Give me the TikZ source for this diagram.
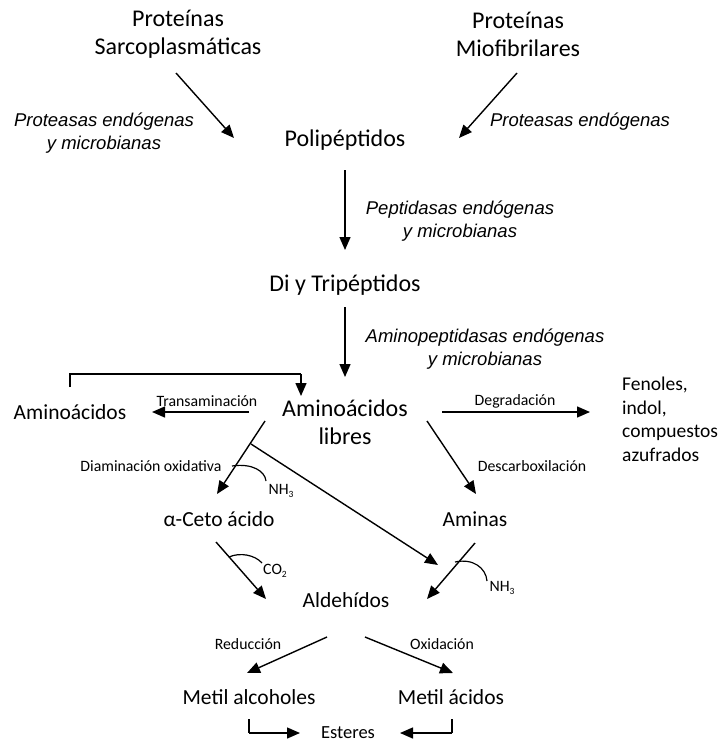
\documentclass[tikz,border=0pt]{standalone}
\usepackage{fontspec}
\setmainfont{Carlito}
\newfontfamily\arialfont{Liberation Sans}
\usetikzlibrary{arrows.meta}
\newcommand{\mysub}[1]{\raisebox{-0.45ex}{\fontsize{9.5}{10}\selectfont #1}}
\tikzset{
  big/.style={font=\fontsize{24}{28}\selectfont, inner sep=0pt, align=center},
  mid/.style={font=\fontsize{21.5}{26}\selectfont, inner sep=0pt, align=center},
  small/.style={font=\fontsize{15.8}{18}\selectfont, inner sep=0pt},
  enz/.style={font=\arialfont\itshape\fontsize{18.5}{22.5}\selectfont, inner sep=0pt, align=center},
  arr/.style={line width=1.4pt, -{Triangle[length=13pt,width=11pt]}},
  ln/.style={line width=1.2pt},
}
\begin{document}
\begin{tikzpicture}[x=1pt,y=-1pt]
\useasboundingbox (0,0) rectangle (720,744);
% texts
\node[big] (sarc) at (178,34) {Proteínas\\Sarcoplasmáticas};
\node[big] (miof) at (518,34) {Proteínas\\Miofibrilares};
\node[enz] (e1) at (104,133) {Proteasas endógenas\\y microbianas};
\node[enz] (e2) at (580,122) {Proteasas endógenas};
\node[big] (poli) at (345,140) {Polipéptidos};
\node[enz] (e3) at (460,221) {Peptidasas endógenas\\y microbianas};
\node[enz] (e4) at (485,349) {Aminopeptidasas endógenas\\y microbianas};
\node[big] (ditri) at (345,285) {Di y Tripéptidos};
\node[big] (aal) at (345,422) {Aminoácidos\\libres};
\node[mid] (aa) at (70,412) {Aminoácidos};
\node[small] (ltr) at (207,401) {Transaminación};
\node[small] (ldeg) at (515,401) {Degradación};
\node[font=\fontsize{19.5}{23.5}\selectfont, inner sep=0pt, align=left, anchor=north west] (fen) at (622,377) {Fenoles,\\indol,\\compuestos\\azufrados};
\node[small] (ldia) at (151,466) {Diaminación oxidativa};
\node[small] (nh1) at (281,491) {NH\mysub{3}};
\node[small] (ldes) at (532,466) {Descarboxilación};
\node[mid] (ceto) at (219,519) {α-Ceto ácido};
\node[mid] (ami) at (475,519) {Aminas};
\node[small] (co2) at (275,571) {CO\mysub{2}};
\node[small] (nh2) at (502,588) {NH\mysub{3}};
\node[mid] (ald) at (346,600) {Aldehídos};
\node[small] (lred) at (248,644) {Reducción};
\node[small] (lox) at (442,644) {Oxidación};
\node[mid] (mal) at (249,697) {Metil alcoholes};
\node[mid] (mac) at (451,697) {Metil ácidos};
\node[font=\fontsize{18.5}{20}\selectfont, inner sep=0pt] (est) at (348,733) {Esteres};
% connector end points
\coordinate (s1) at (176,73);  \coordinate (t1) at (234,138);
\coordinate (s2) at (517,73);  \coordinate (t2) at (459,138);
\coordinate (s3) at (345,170); \coordinate (t3) at (345,250);
\coordinate (s4) at (345,307); \coordinate (t4) at (345,377);
\coordinate (b1) at (70,387);  \coordinate (b2) at (70,374);
\coordinate (b3) at (301,374); \coordinate (t5) at (301,396);
\coordinate (s6) at (249,412); \coordinate (t6) at (152,412);
\coordinate (s7) at (442,412); \coordinate (t7) at (590,412);
\coordinate (s8) at (265,421); \coordinate (t8) at (217,494);
\coordinate (s9) at (251,444); \coordinate (t9) at (438,565);
\coordinate (s10) at (427,421); \coordinate (t10) at (476,494);
\coordinate (s11) at (216,542); \coordinate (t11) at (266,599);
\coordinate (s12) at (475,543); \coordinate (t12) at (427,599);
\coordinate (s13) at (327,637); \coordinate (t13) at (247,673);
\coordinate (s14) at (365,637); \coordinate (t14) at (453,673);
\coordinate (c1) at (249,719); \coordinate (c2) at (249,733); \coordinate (t15) at (300,733);
\coordinate (c3) at (452,719); \coordinate (c4) at (452,733); \coordinate (t16) at (400,733);
\coordinate (n1a) at (232,466); \coordinate (n1b) at (266,481);
\coordinate (cca) at (229,557); \coordinate (ccb) at (262,563);
\coordinate (n2a) at (455,562); \coordinate (n2b) at (487,581);
% connectors
\draw[arr] (s1) -- (t1);
\draw[arr] (s2) -- (t2);
\draw[arr] (s3) -- (t3);
\draw[arr] (s4) -- (t4);
\draw[ln] (b1) -- (b2) -- (b3);
\draw[arr] (b3) -- (t5);
\draw[arr] (s6) -- (t6);
\draw[arr] (s7) -- (t7);
\draw[arr] (s8) -- (t8);
\draw[arr] (s9) -- (t9);
\draw[arr] (s10) -- (t10);
\draw[arr] (s11) -- (t11);
\draw[arr] (s12) -- (t12);
\draw[arr] (s13) -- (t13);
\draw[arr] (s14) -- (t14);
\draw[ln] (c1) -- (c2);
\draw[arr] (c2) -- (t15);
\draw[ln] (c3) -- (c4);
\draw[arr] (c4) -- (t16);
\draw[ln] (n1a) .. controls (252,463) and (265,471) .. (n1b);
\draw[ln] (cca) .. controls (240,552) and (255,555) .. (ccb);
\draw[ln] (n2a) .. controls (473,558) and (486,568) .. (n2b);
\end{tikzpicture}
\end{document}
